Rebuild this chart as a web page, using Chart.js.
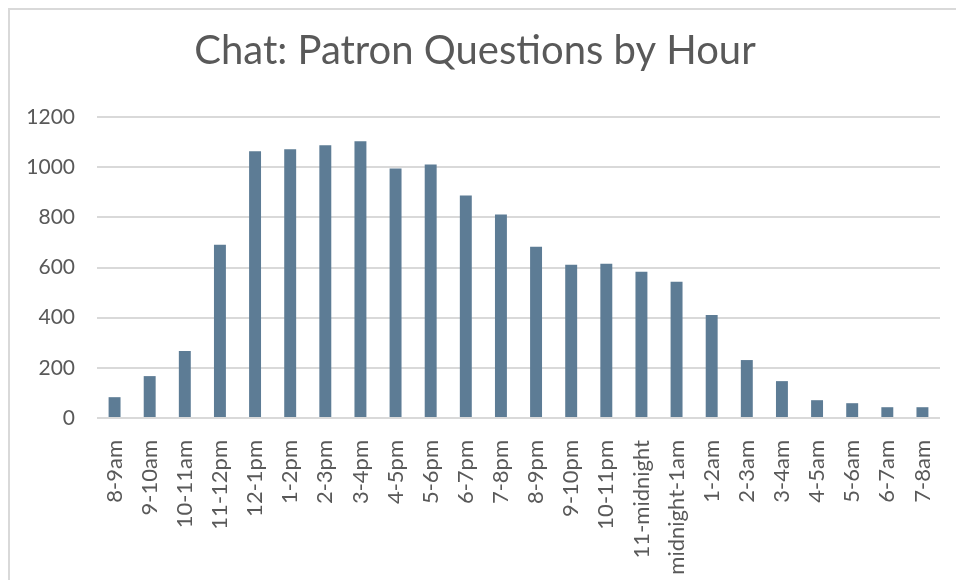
<!DOCTYPE html>
<html>
<head>
<meta charset="utf-8">
<script src="https://cdn.jsdelivr.net/npm/chart.js@4"></script>
<style>
    html, body { margin: 0; padding: 0; background: #fff; overflow: hidden; }
    #frame {
        position: absolute; left: 8px; top: 8px;
        width: 960px; height: 580px;
        border-top: 2px solid #d9d9d9; border-left: 2px solid #d9d9d9;
    }
    #chartBox { position: absolute; left: 0; top: 0; width: 946px; height: 570px; }
</style>
</head>
<body>
<div id="frame">
    <div id="chartBox"><canvas id="bar-chart"></canvas></div>
</div>
<script>
// Chat questions per hour
const hours = ["8-9am", "9-10am", "10-11am", "11-12pm", "12-1pm", "1-2pm", "2-3pm", "3-4pm",
    "4-5pm", "5-6pm", "6-7pm", "7-8pm", "8-9pm", "9-10pm", "10-11pm", "11-midnight",
    "midnight-1am", "1-2am", "2-3am", "3-4am", "4-5am", "5-6am", "6-7am", "7-8am"];
const questions = [83, 167, 267, 691, 1063, 1071, 1087, 1103, 995, 1011, 887, 811,
    683, 611, 615, 583, 543, 411, 231, 147, 71, 59, 43, 43];
const yTicks = [0, 200, 400, 600, 800, 1000, 1200];

const textColor = '#595959';
const font = 'Lato';

window.addEventListener('DOMContentLoaded', event => {
    new Chart(document.getElementById("bar-chart"), {
        type: 'bar',
        data: {
            labels: hours,
            datasets: [
                {
                    label: "Questions",
                    backgroundColor: '#5d7c95',
                    data: questions,
                    barPercentage: 0.34,
                    categoryPercentage: 1.0
                }
            ]
        },
        options: {
            responsive: true,
            maintainAspectRatio: false,
            animation: false,
            layout: { padding: { left: 0, right: 16, top: 0, bottom: 0 } },
            plugins: {
                legend: { display: false },
                tooltip: { enabled: false },
                title: {
                    display: true,
                    text: 'Chat: Patron Questions by Hour',
                    color: textColor,
                    font: { family: font, size: 40, weight: 'normal' },
                    padding: { top: 17, bottom: 42 }
                }
            },
            scales: {
                x: {
                    grid: { display: false },
                    border: { display: false },
                    ticks: {
                        color: textColor,
                        font: { family: font, size: 22 },
                        minRotation: 90,
                        maxRotation: 90,
                        autoSkip: false,
                        padding: 14
                    },
                    afterFit: scale => {
                        scale.height = 162;
                        scale.paddingLeft = 0;
                        scale.paddingRight = 0;
                    }
                },
                y: {
                    min: 0,
                    max: 1200,
                    afterBuildTicks: scale => { scale.ticks = yTicks.map(v => ({ value: v })); },
                    grid: { color: '#d9d9d9', lineWidth: 2, drawTicks: false },
                    border: { display: false },
                    ticks: {
                        color: textColor,
                        font: { family: font, size: 21 },
                        padding: 22,
                        callback: v => String(v)
                    },
                    afterFit: scale => { scale.width = 87; }
                }
            }
        }
    });
});
</script>
</body>
</html>
